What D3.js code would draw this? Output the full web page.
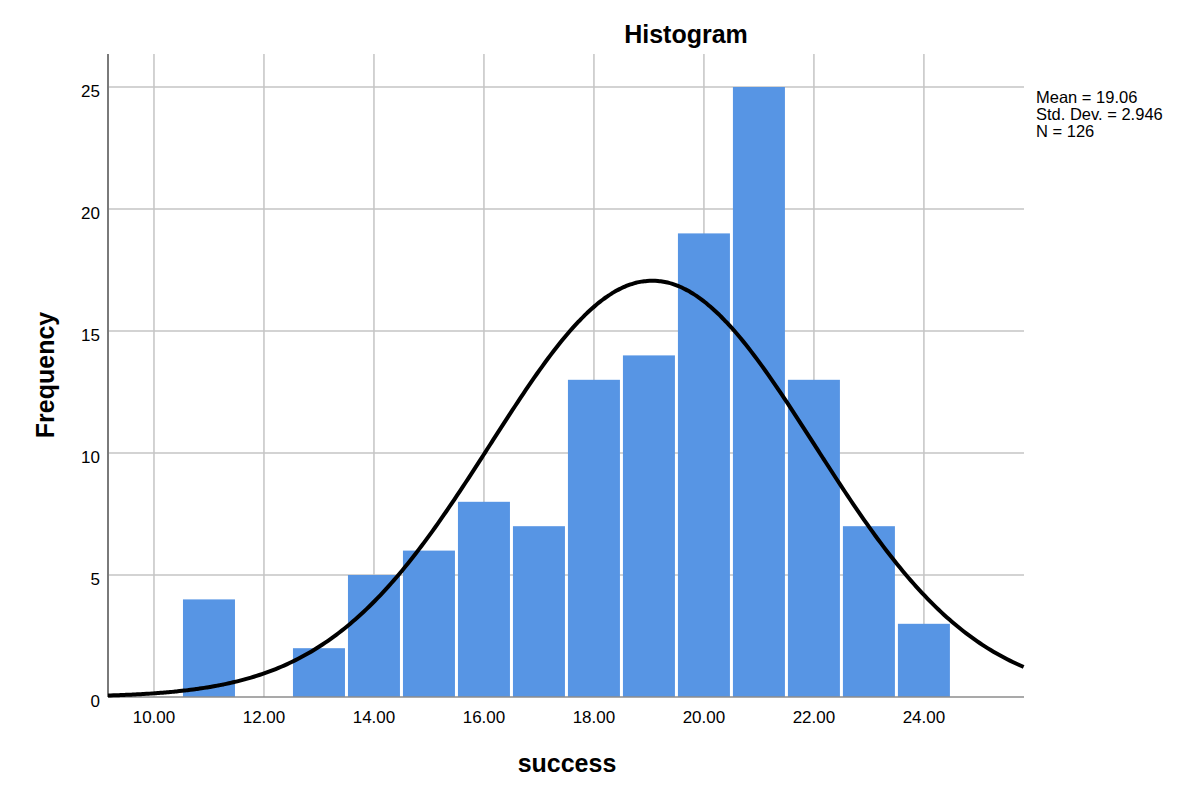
<!DOCTYPE html>
<html>
<head>
<meta charset="utf-8">
<script src="https://cdn.jsdelivr.net/npm/d3@7"></script>
<style>
  body { margin: 0; background: #fff; }
  svg { font-family: Arial, "Liberation Sans", sans-serif; }
</style>
</head>
<body>
<svg id="chart"></svg>
<script>
// histogram of "success", bins of width 1
const binStarts = [10.5, 11.5, 12.5, 13.5, 14.5, 15.5, 16.5, 17.5, 18.5, 19.5, 20.5, 21.5, 22.5, 23.5];
const counts    = [4, 0, 2, 5, 6, 8, 7, 13, 14, 19, 25, 13, 7, 3];
const xTicks = [10, 12, 14, 16, 18, 20, 22, 24];
const yTicks = [0, 5, 10, 15, 20, 25];
const statMean = 19.06;
const statSd = 2.946;
const statN = 126;
const statLines = ["Mean = 19.06", "Std. Dev. = 2.946", "N = 126"];

const chartWidth = 1200, chartHeight = 803;
const plotLeft = 108, plotRight = 1024, plotTop = 54, plotBottom = 697;

const svg = d3.select('svg#chart')
    .attr('width', chartWidth)
    .attr('height', chartHeight);

const x = d3.scaleLinear().domain([9.164, 25.82]).range([plotLeft, plotRight]);
const y = d3.scaleLinear().domain([0, 25]).range([plotBottom, 87]);

// grid
svg.append('g').selectAll('line').data(xTicks).join('line')
    .attr('x1', d => x(d)).attr('x2', d => x(d))
    .attr('y1', plotTop).attr('y2', plotBottom)
    .attr('stroke', '#c4c4c4').attr('stroke-width', 1.5);

svg.append('g').selectAll('line').data(yTicks.slice(1)).join('line')
    .attr('x1', plotLeft).attr('x2', plotRight)
    .attr('y1', d => y(d)).attr('y2', d => y(d))
    .attr('stroke', '#c4c4c4').attr('stroke-width', 1.5);

// bars
svg.append('g').selectAll('rect').data(binStarts.map((b, i) => ({ b: b, c: counts[i] })).filter(d => d.c > 0))
    .join('rect')
    .attr('x', d => x(d.b) + 1.5)
    .attr('width', d => x(d.b + 1) - x(d.b) - 3)
    .attr('y', d => y(d.c))
    .attr('height', d => y(0) - y(d.c))
    .attr('fill', '#5795e4');

// axis lines
svg.append('line')
    .attr('x1', plotLeft).attr('x2', plotRight).attr('y1', plotBottom).attr('y2', plotBottom)
    .attr('stroke', '#8c8c8c').attr('stroke-width', 1.5);
svg.append('line')
    .attr('x1', plotLeft).attr('x2', plotLeft).attr('y1', plotTop).attr('y2', plotBottom)
    .attr('stroke', '#7a7a7a').attr('stroke-width', 2);

// normal curve from the shown mean and sd
const binWidth = 1;
const normal = v => statN * binWidth * Math.exp(-0.5 * Math.pow((v - statMean) / statSd, 2)) / (statSd * Math.sqrt(2 * Math.PI));
const curveXs = d3.range(x.domain()[0], x.domain()[1] + 0.001, 0.05);
svg.append('path')
    .datum(curveXs)
    .attr('d', d3.line().x(d => x(d)).y(d => y(normal(d))).curve(d3.curveBasis))
    .attr('fill', 'none')
    .attr('stroke', '#000')
    .attr('stroke-width', 4);

// tick labels
svg.append('g').selectAll('text').data(xTicks).join('text')
    .attr('x', d => x(d)).attr('y', 723)
    .attr('text-anchor', 'middle')
    .attr('font-size', 17)
    .attr('fill', '#000')
    .text(d => d3.format('.2f')(d));

svg.append('g').selectAll('text').data(yTicks).join('text')
    .attr('x', 100).attr('y', d => y(d) + 10)
    .attr('text-anchor', 'end')
    .attr('font-size', 17)
    .attr('fill', '#000')
    .text(d => d);

// titles
svg.append('text')
    .attr('x', 686).attr('y', 43)
    .attr('text-anchor', 'middle')
    .attr('font-size', 25).attr('font-weight', 'bold')
    .text('Histogram');

svg.append('text')
    .attr('x', 567).attr('y', 772)
    .attr('text-anchor', 'middle')
    .attr('font-size', 25).attr('font-weight', 'bold')
    .text('success');

svg.append('text')
    .attr('transform', 'translate(54,375) rotate(-90)')
    .attr('text-anchor', 'middle')
    .attr('font-size', 25).attr('font-weight', 'bold')
    .text('Frequency');

// stats box
svg.append('g').selectAll('text').data(statLines).join('text')
    .attr('x', 1036).attr('y', (d, i) => 103 + i * 17)
    .attr('font-size', 16.5)
    .attr('fill', '#000')
    .text(d => d);
</script>
</body>
</html>
